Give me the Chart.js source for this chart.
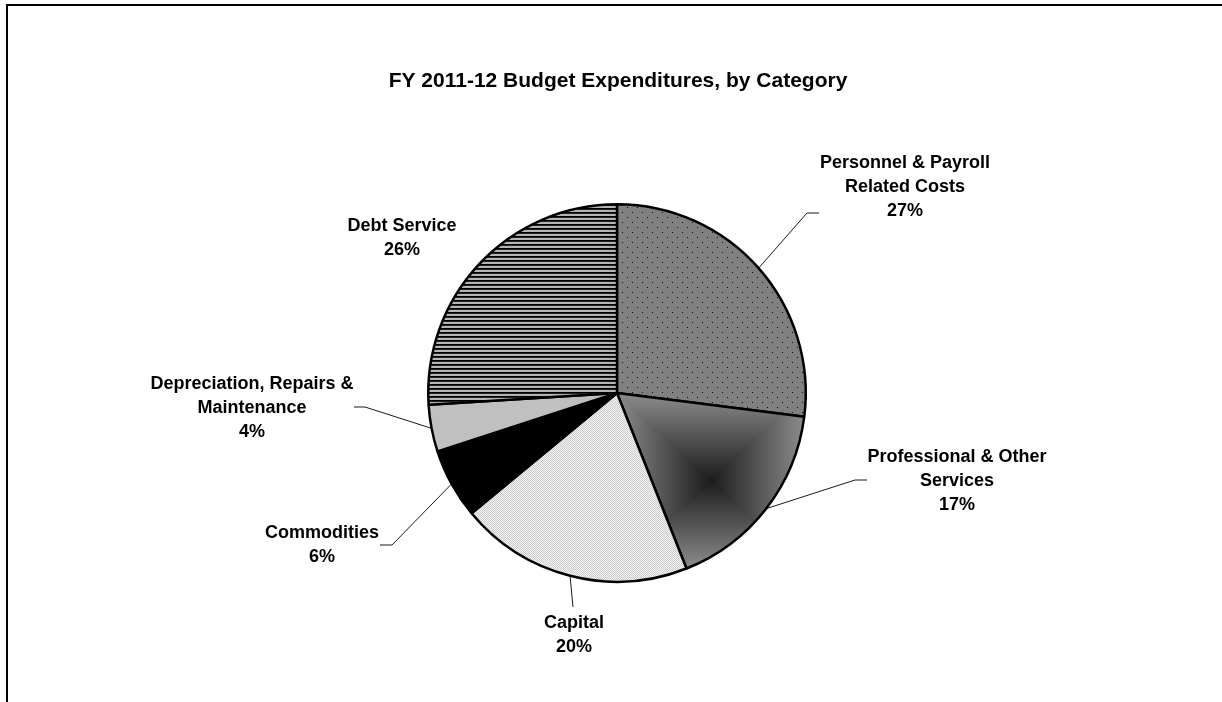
<!DOCTYPE html>
<html>
<head>
<meta charset="utf-8">
<title>FY 2011-12 Budget Expenditures, by Category</title>
<script src="https://cdn.jsdelivr.net/npm/chart.js@4.4.1/dist/chart.umd.min.js"></script>
<style>
    html, body { margin: 0; padding: 0; background: #fff; overflow: hidden; }
    #frame {
        position: absolute; left: 6px; top: 4px; width: 1240px; height: 720px;
        border-left: 2px solid #000; border-top: 2px solid #000;
    }
    #wrap { position: absolute; left: 0; top: 0; width: 1222px; height: 702px; }
</style>
</head>
<body>
<div id="frame"></div>
<div id="wrap"><canvas id="budgetPie"></canvas></div>
<script>
// Share of FY 2011-12 expenditures by category (percent of total)
const categories = [
    'Personnel & Payroll Related Costs',
    'Professional & Other Services',
    'Capital',
    'Commodities',
    'Depreciation, Repairs & Maintenance',
    'Debt Service'
];
const shares = [27, 17, 20, 6, 4, 26];

// how each category name wraps next to the pie
const labelLines = [
    ['Personnel & Payroll', 'Related Costs'],
    ['Professional & Other', 'Services'],
    ['Capital'],
    ['Commodities'],
    ['Depreciation, Repairs &', 'Maintenance'],
    ['Debt Service']
];

const chartTitle = 'FY 2011-12 Budget Expenditures, by Category';

// callout placement: text centre x, first line y, leader elbow and end (null = none)
const callouts = [
    { x: 905, y: 163, elbow: [807, 213], end: [819, 213] },
    { x: 957, y: 457, elbow: [855, 480], end: [867, 480] },
    { x: 574, y: 623, elbow: null, end: [573, 607] },
    { x: 322, y: 533, elbow: [392, 545], end: [380, 545] },
    { x: 252, y: 384, elbow: [365, 407], end: [354, 407] },
    { x: 402, y: 226, elbow: null, end: null }
];

const FONT = '"Liberation Sans", Arial, Helvetica, sans-serif';
const LINE_H = 24;

const canvas = document.getElementById('budgetPie');
const ctx = canvas.getContext('2d');

function makeTile(w, h, paint) {
    const c = document.createElement('canvas');
    c.width = w;
    c.height = h;
    paint(c.getContext('2d'));
    return ctx.createPattern(c, 'repeat');
}

// gray with a staggered grid of small dark dots
const dotted = makeTile(10, 10, g => {
    g.fillStyle = '#808080';
    g.fillRect(0, 0, 10, 10);
    g.fillStyle = '#111';
    g.fillRect(2, 2, 1, 1);
    g.fillRect(7, 7, 1, 1);
});

// fine light stipple
const stippled = makeTile(2, 2, g => {
    g.fillStyle = '#f4f4f4';
    g.fillRect(0, 0, 2, 2);
    g.fillStyle = '#cccccc';
    g.fillRect(0, 0, 1, 1);
    g.fillRect(1, 1, 1, 1);
});

// narrow horizontal stripes
const striped = makeTile(4, 4, g => {
    g.fillStyle = '#b4b4b4';
    g.fillRect(0, 0, 4, 4);
    g.fillStyle = '#000';
    g.fillRect(0, 0, 4, 1);
    g.fillStyle = '#222';
    g.fillRect(0, 1, 4, 1);
});

const fills = [dotted, '#555555', stippled, '#000000', '#c0c0c0', striped];

// "from centre" rectangular gradient over the bounding box of one slice
function boxGradientFor(arc) {
    const { x, y, startAngle, endAngle, outerRadius } = arc.getProps(['x', 'y', 'startAngle', 'endAngle', 'outerRadius'], true);
    let x0 = x, x1 = x, y0 = y, y1 = y;
    for (let i = 0; i <= 200; i++) {
        const a = startAngle + (endAngle - startAngle) * i / 200;
        const px = x + outerRadius * Math.cos(a);
        const py = y + outerRadius * Math.sin(a);
        x0 = Math.min(x0, px); x1 = Math.max(x1, px);
        y0 = Math.min(y0, py); y1 = Math.max(y1, py);
    }
    const cx = (x0 + x1) / 2, cy = (y0 + y1) / 2;
    const hw = (x1 - x0) / 2, hh = (y1 - y0) / 2;

    const off = document.createElement('canvas');
    off.width = canvas.width;
    off.height = canvas.height;
    const g = off.getContext('2d');
    const bx = Math.floor(x0) - 2, by = Math.floor(y0) - 2;
    const bw = Math.ceil(x1 - x0) + 4, bh = Math.ceil(y1 - y0) + 4;
    const img = g.createImageData(bw, bh);
    for (let j = 0; j < bh; j++) {
        for (let i = 0; i < bw; i++) {
            const t = Math.min(1, Math.max(Math.abs(bx + i + 0.5 - cx) / hw, Math.abs(by + j + 0.5 - cy) / hh));
            const v = Math.round(28 + t * 112);
            const k = (j * bw + i) * 4;
            img.data[k] = img.data[k + 1] = img.data[k + 2] = v;
            img.data[k + 3] = 255;
        }
    }
    g.putImageData(img, bx, by);
    return ctx.createPattern(off, 'no-repeat');
}

const calloutPlugin = {
    id: 'callouts',
    afterDatasetsDraw(chart) {
        const c = chart.ctx;
        const arcs = chart.getDatasetMeta(0).data;
        c.save();

        c.fillStyle = '#000';
        c.textAlign = 'center';
        c.textBaseline = 'alphabetic';
        c.font = 'bold 21px ' + FONT;
        c.fillText(chartTitle, 618, 87);

        c.strokeStyle = '#1a1a1a';
        c.lineWidth = 1;
        arcs.forEach((arc, i) => {
            const co = callouts[i];
            if (!co.end) return;
            const { x, y, startAngle, endAngle, outerRadius } = arc.getProps(['x', 'y', 'startAngle', 'endAngle', 'outerRadius'], true);
            const mid = (startAngle + endAngle) / 2;
            c.beginPath();
            c.moveTo(x + outerRadius * Math.cos(mid), y + outerRadius * Math.sin(mid));
            if (co.elbow) c.lineTo(co.elbow[0], co.elbow[1]);
            c.lineTo(co.end[0], co.end[1]);
            c.stroke();
        });

        c.font = 'bold 18px ' + FONT;
        c.textBaseline = 'middle';
        labelLines.forEach((lines, i) => {
            const co = callouts[i];
            lines.concat([shares[i] + '%']).forEach((txt, k) => {
                c.fillText(txt, co.x, co.y + k * LINE_H);
            });
        });
        c.restore();
    }
};

const chart = new Chart(canvas, {
    type: 'pie',
    data: {
        labels: categories,
        datasets: [{
            data: shares,
            backgroundColor: fills,
            borderColor: '#000',
            borderWidth: 2.5,
            hoverOffset: 0
        }]
    },
    options: {
        responsive: true,
        maintainAspectRatio: false,
        animation: false,
        events: [],
        layout: { padding: { left: 427, right: 415, top: 203, bottom: 119 } },
        plugins: {
            legend: { display: false },
            tooltip: { enabled: false },
            title: { display: false }
        }
    },
    plugins: [calloutPlugin]
});

// the professional services slice gets its gradient once its geometry is known
chart.data.datasets[0].backgroundColor[1] = boxGradientFor(chart.getDatasetMeta(0).data[1]);
chart.update('none');
</script>
</body>
</html>
